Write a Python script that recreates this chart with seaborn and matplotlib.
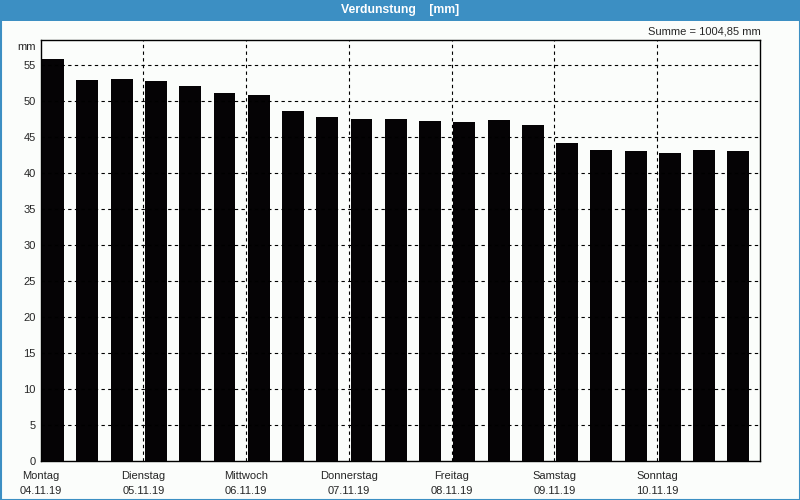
import numpy as np
import pandas as pd
import matplotlib
matplotlib.use("Agg")
import matplotlib.pyplot as plt
import seaborn as sns
from matplotlib.patches import Rectangle

# ---- data ----
values = [55.8, 52.9, 53.05, 52.8, 52.1, 51.1, 50.8,
          48.6, 47.8, 47.5, 47.5, 47.2, 47.1, 47.4,
          46.7, 44.2, 43.2, 43.05, 42.8, 43.2, 43.05]
days = ["Montag", "Dienstag", "Mittwoch", "Donnerstag", "Freitag", "Samstag", "Sonntag"]
dates = ["04.11.19", "05.11.19", "06.11.19", "07.11.19", "08.11.19", "09.11.19", "10.11.19"]
yticks = [0, 5, 10, 15, 20, 25, 30, 35, 40, 45, 50, 55]
title = "Verdunstung    [mm]"
summe = "Summe = 1004,85 mm"
unit = "mm"

sns.set_style("white")
plt.rcParams["font.family"] = ["Liberation Sans", "DejaVu Sans"]

BG = "#fbfdfb"
BLUE = "#3c8fc3"

fig = plt.figure(figsize=(8, 5), dpi=100, facecolor=BG)
W, H = 800, 500
ax = fig.add_axes([40.5 / W, 39 / H, 719.5 / W, 421 / H])
ax.set_facecolor(BG)

df = pd.DataFrame({"slot": [str(i) for i in range(len(values))], "val": values})
sns.barplot(data=df, x="slot", y="val", color="#050305", width=0.64,
            saturation=1, ax=ax, zorder=1)
for p in ax.patches:
    p.set_edgecolor("none")

ax.set_xlim(-0.37, len(values) - 0.37)
ax.set_ylim(0, 58.47)
ax.set_xlabel("")
ax.set_ylabel("")

# grid
for y in yticks[1:]:
    ax.axhline(y, color="black", lw=0.8, ls="--", dashes=(3, 3), zorder=2)
day_pos = [3 * k - 0.37 for k in range(len(days))]
for x in day_pos[1:]:
    ax.axvline(x, color="black", lw=0.8, ls="--", dashes=(3, 3), zorder=2)

ax.set_yticks(yticks)
ax.set_yticklabels([str(v) for v in yticks], fontsize=8)
ax.tick_params(axis="y", length=0, pad=3.5)
ax.set_xticks(day_pos)
ax.set_xticklabels([f"{d}\n{dt}" for d, dt in zip(days, dates)], fontsize=8,
                   linespacing=1.6)
ax.tick_params(axis="x", length=4, width=0.8, pad=3, color="black", direction="out")

for s in ax.spines.values():
    s.set_visible(True)
    s.set_color("black")
    s.set_linewidth(1.0)

# title bar
fig.patches.append(Rectangle((0, 1 - 21 / H), 1, 21 / H, transform=fig.transFigure,
                             facecolor=BLUE, edgecolor="none", zorder=0))
fig.text(0.5, 1 - 10.5 / H, title, ha="center", va="center", color="white",
         fontsize=8.8, fontweight="bold")
# outer border
fig.patches.append(Rectangle((0.5 / W, 0.5 / H), 1 - 1 / W, 1 - 1 / H, transform=fig.transFigure,
                             facecolor="none", edgecolor=BLUE, lw=1.5, zorder=5))

fig.text(761 / W, 1 - 32 / H, summe, ha="right", va="center", fontsize=8)
fig.text(36 / W, 1 - 46.5 / H, unit, ha="right", va="center", fontsize=8)

fig.savefig("out.png", dpi=100, facecolor=BG)
